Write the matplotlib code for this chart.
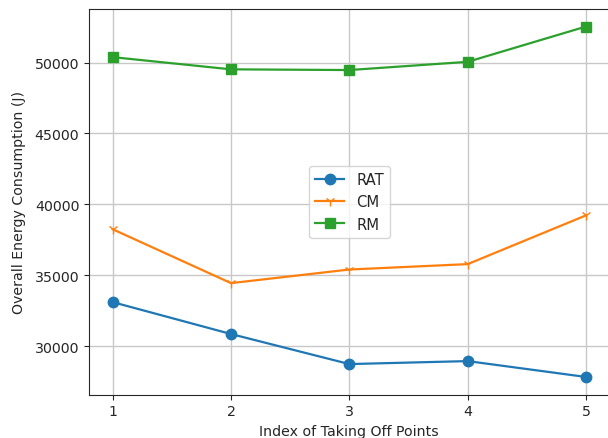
import numpy as np
import matplotlib
matplotlib.use("Agg")
import matplotlib.pyplot as plt

# Data
idx = [1, 2, 3, 4, 5]
rat = [33100, 30850, 28730, 28940, 27820]
cm = [38240, 34440, 35400, 35780, 39220]
rm = [50380, 49520, 49470, 50050, 52540]

plt.rcParams['font.family'] = 'DejaVu Sans'
plt.rcParams['text.color'] = '.15'
plt.rcParams['axes.labelcolor'] = '.15'
plt.rcParams['xtick.color'] = '.15'
plt.rcParams['ytick.color'] = '.15'
plt.rcParams['axes.edgecolor'] = '.15'

fig = plt.figure(figsize=(6.08, 4.39), dpi=100)
ax = fig.add_axes([89 / 608, 1 - 395.5 / 439, (609.7 - 89) / 608, (395.5 - 10) / 439])

ax.plot(idx, rat, marker='o', color='#1f77b4', label='RAT', lw=1.6, ms=7.5)
ax.plot(idx, cm, marker='1', color='#ff7f0e', label='CM', lw=1.6, ms=7.5)
ax.plot(idx, rm, marker='s', color='#2ca02c', label='RM', lw=1.6, ms=7.5)

ax.set_xticks(idx)
ax.grid(True, color='#c8c8c8', lw=1)
ax.set_axisbelow(True)
ax.tick_params(labelsize=10.2)
ax.set_xlabel("Index of Taking Off Points", fontsize=10.2)
ax.set_ylabel("Overall Energy Consumption (J)", fontsize=10.2, labelpad=6)
ax.legend(loc='center', fontsize=10.6)

fig.savefig("out.png", dpi=100)
